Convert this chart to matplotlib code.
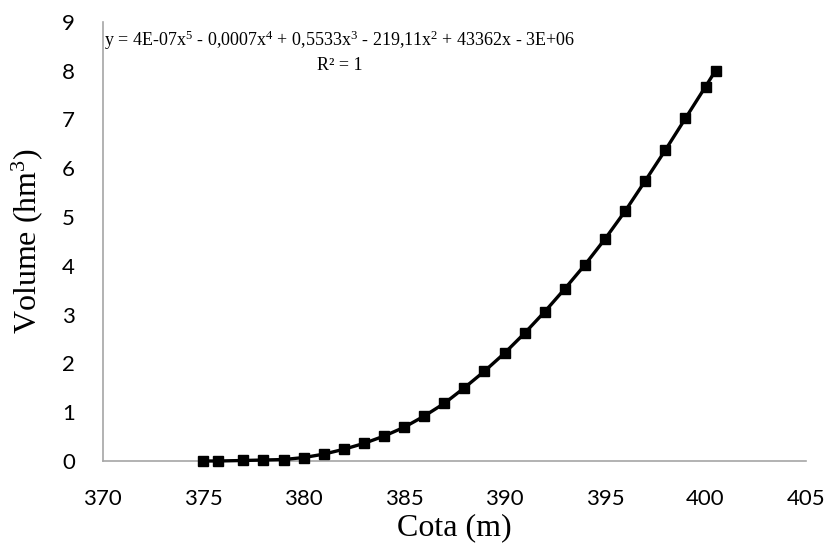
import matplotlib
matplotlib.use("Agg")
import matplotlib.pyplot as plt

# cota (m) and volume (hm3)
cota = [375, 375.75, 377, 378, 379, 380, 381, 382, 383, 384, 385, 386, 387,
        388, 389, 390, 391, 392, 393, 394, 395, 396, 397, 398, 399, 400, 400.5]
volume = [0.0, 0.0, 0.01, 0.02, 0.03, 0.07, 0.14, 0.24, 0.36, 0.51, 0.69, 0.92,
          1.18, 1.50, 1.84, 2.21, 2.62, 3.06, 3.53, 4.02, 4.55, 5.12, 5.74,
          6.37, 7.02, 7.67, 8.0]

x_ticks = [370, 375, 380, 385, 390, 395, 400, 405]
y_ticks = [0, 1, 2, 3, 4, 5, 6, 7, 8, 9]

equation = ("y = 4E-07x$^{5}$ - 0,0007x$^{4}$ + 0,5533x$^{3}$ - 219,11x$^{2}$"
            " + 43362x - 3E+06")
r2_text = "R² = 1"

plt.rcParams["mathtext.fontset"] = "custom"
plt.rcParams["mathtext.rm"] = "Liberation Serif"
plt.rcParams["mathtext.it"] = "Liberation Serif"

fig = plt.figure(figsize=(8.27, 5.54), dpi=100)
ax = fig.add_axes([0.1242, 0.1679, 0.8504, 0.7929])

ax.plot(cota, volume, color="black", linewidth=2.4, marker="s",
        markersize=7.5, markerfacecolor="black", markeredgecolor="black",
        clip_on=False, zorder=3)

ax.set_xlim(370, 405)
ax.set_ylim(0, 9)
ax.set_xticks(x_ticks)
ax.set_yticks(y_ticks)

for side in ["top", "right"]:
    ax.spines[side].set_visible(False)
for side in ["left", "bottom"]:
    ax.spines[side].set_color("#a6a6a6")
    ax.spines[side].set_linewidth(1.2)

ax.tick_params(axis="both", length=0, labelsize=16)
ax.tick_params(axis="y", pad=20)
ax.tick_params(axis="x", pad=20)
for lab in ax.get_xticklabels() + ax.get_yticklabels():
    lab.set_fontfamily("Lato")

ax.set_xlabel("Cota (m)", fontfamily="Liberation Serif", fontsize=23, labelpad=3)
ax.set_ylabel("Volume (hm$^{3}$)", fontfamily="Liberation Serif", fontsize=23,
              labelpad=12)

ax.text(0.3374, 0.958, equation, transform=ax.transAxes, ha="center",
        va="center", fontfamily="Liberation Serif", fontsize=13)
ax.text(0.3374, 0.9, r2_text, transform=ax.transAxes, ha="center",
        va="center", fontfamily="Liberation Serif", fontsize=13)

fig.savefig("out.png", dpi=100)
